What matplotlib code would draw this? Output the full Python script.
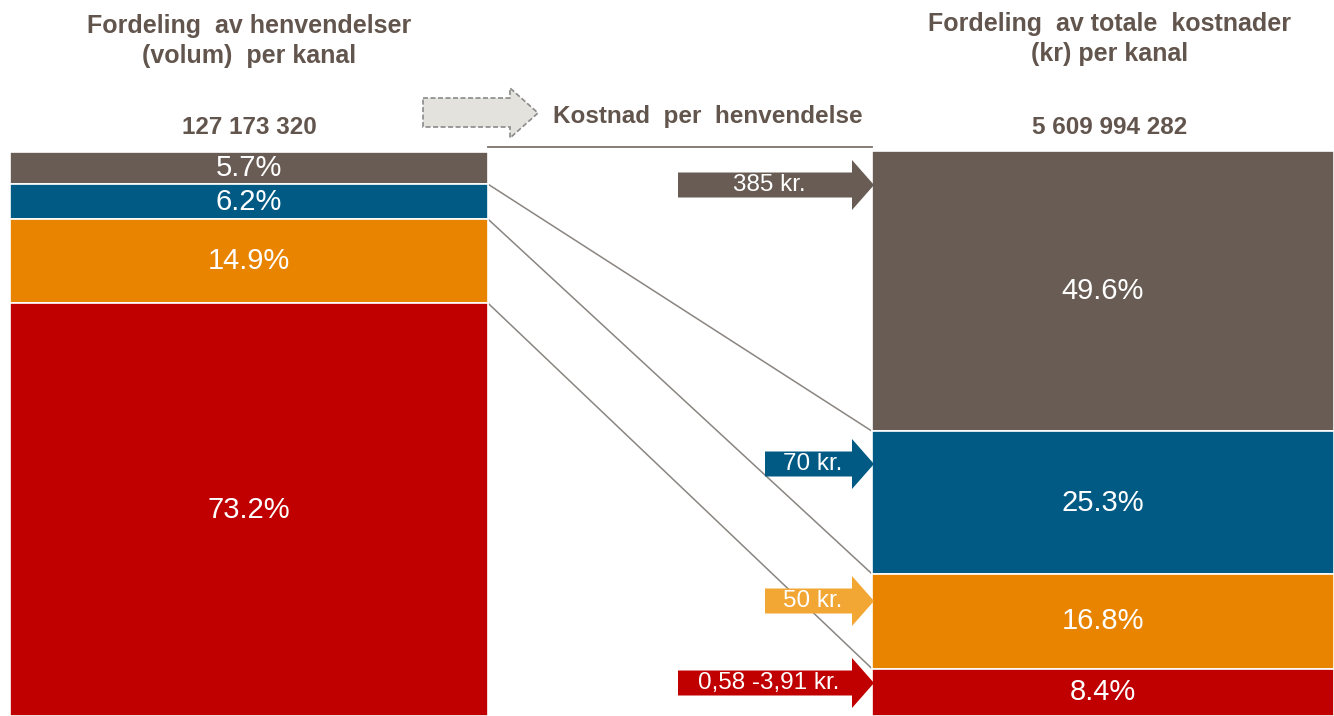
import matplotlib
matplotlib.use("Agg")
import matplotlib.pyplot as plt
from matplotlib.patches import Polygon
import numpy as np

plt.rcParams['font.family'] = ['Liberation Sans', 'DejaVu Sans']

# ---- data ----
channels = ["Kanal 1", "Kanal 2", "Kanal 3", "Kanal 4"]  # top -> bottom
volume_share = [5.7, 6.2, 14.9, 73.2]
cost_share = [49.6, 25.3, 16.8, 8.4]
cost_per_contact = ["385 kr.", "70 kr.", "50 kr.", "0,58 -3,91 kr."]
volume_total = "127 173 320"
cost_total = "5 609 994 282"
left_title = "Fordeling  av henvendelser\n(volum)  per kanal"
right_title = "Fordeling  av totale  kostnader\n(kr) per kanal"
mid_title = "Kostnad  per  henvendelse"

colors = ["#695c54", "#005a84", "#e88400", "#c00000"]
arrow_colors = ["#695c54", "#005a84", "#f2a634", "#c00000"]
title_color = "#62554d"

W, H = 1334, 716
fig = plt.figure(figsize=(W / 100, H / 100), dpi=100)

# bar axes: x in pixel units, y in percent (100% spans 564 px, bottom at figure bottom)
PX_PER_PCT = 5.64
ax = fig.add_axes([0, 0, 1, 1])
ax.set_xlim(0, W)
ax.set_ylim(0, H / PX_PER_PCT)
ax.axis("off")

# decoration axes in pixel coordinates
deco = fig.add_axes([0, 0, 1, 1], facecolor="none")
deco.set_xlim(0, W)
deco.set_ylim(H, 0)
deco.axis("off")


def stack_bottoms(vals):
    bottoms = []
    acc = 0.0
    for v in reversed(vals):
        bottoms.append(acc)
        acc += v
    return list(reversed(bottoms))


left_x0, left_x1 = 10, 488
right_x0, right_x1 = 872, 1334

lb = stack_bottoms(volume_share)
rb = stack_bottoms(cost_share)
ax.bar([(left_x0 + left_x1) / 2] * 4, volume_share, bottom=lb, width=left_x1 - left_x0,
       color=colors, edgecolor="white", linewidth=1.2, zorder=2)
ax.bar([(right_x0 + right_x1) / 2] * 4, cost_share, bottom=rb, width=right_x1 - right_x0,
       color=colors, edgecolor="white", linewidth=1.2, zorder=2)

for v, b in zip(volume_share, lb):
    ax.text((left_x0 + left_x1) / 2, b + v / 2, f"{v:.1f}%", color="white", fontsize=21,
            ha="center", va="center", zorder=4)
for v, b in zip(cost_share, rb):
    ax.text((right_x0 + right_x1) / 2, b + v / 2, f"{v:.1f}%", color="white", fontsize=21,
            ha="center", va="center", zorder=4)

# connector lines between segment boundaries
for i in range(3):
    ax.plot([left_x1, right_x0], [lb[i], rb[i]], color="#8a8580", lw=1.1, zorder=1)

# titles
deco.text(249, 41, left_title, ha="center", va="center", fontsize=18, fontweight="bold",
          color=title_color, linespacing=1.3)
deco.text(1110, 39, right_title, ha="center", va="center", fontsize=18, fontweight="bold",
          color=title_color, linespacing=1.3)
deco.text(249, 128, volume_total, ha="center", va="center", fontsize=17.5, fontweight="bold",
          color=title_color)
deco.text(1110, 128, cost_total, ha="center", va="center", fontsize=17.5, fontweight="bold",
          color=title_color)
deco.text(708, 117, mid_title, ha="center", va="center", fontsize=17.5, fontweight="bold",
          color=title_color)
deco.plot([488, 872], [147, 147], color="#7d716a", lw=1.3)

# header arrow (dashed outline)
hdr = Polygon([(423, 98), (510, 98), (510, 88), (538, 113), (510, 138), (510, 127), (423, 127)],
              closed=True, facecolor="#e3e2dc", edgecolor="#8a8a8a", linestyle=(0, (3, 1.5)),
              lw=1.2, zorder=3)
deco.add_patch(hdr)


def block_arrow(x0, xh, x1, yc, half_body, half_head, color):
    pts = [(x0, yc - half_body), (xh, yc - half_body), (xh, yc - half_head), (x1, yc),
           (xh, yc + half_head), (xh, yc + half_body), (x0, yc + half_body)]
    deco.add_patch(Polygon(pts, closed=True, facecolor=color, edgecolor="none", zorder=5))


arrow_specs = [(678, 185), (765, 464), (765, 601), (678, 683)]
for (x0, yc), lab, c in zip(arrow_specs, cost_per_contact, arrow_colors):
    block_arrow(x0, 852, 874, yc, 12.5, 25, c)
    deco.text((x0 + 852) / 2 + 4, yc, lab, color="white", fontsize=17.5, ha="center",
              va="center", zorder=6)

fig.savefig("out.png", dpi=100)
